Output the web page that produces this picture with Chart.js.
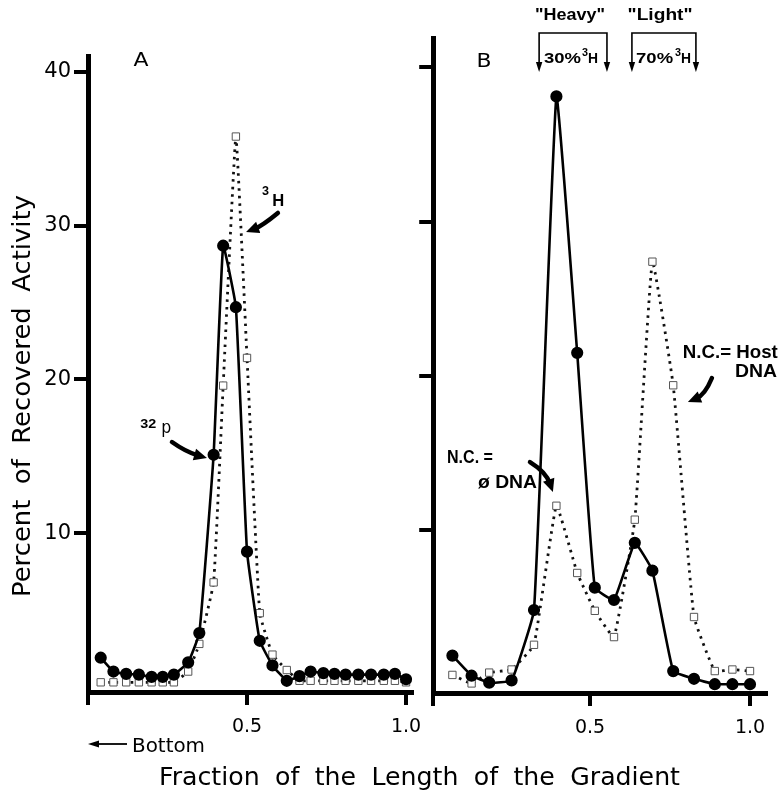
<!DOCTYPE html>
<html>
<head>
<meta charset="utf-8">
<script src="https://cdn.jsdelivr.net/npm/chart.js@4.4.1/dist/chart.umd.min.js"></script>
<style>
body{margin:0;background:#fff;}
#wrap{position:relative;width:780px;height:791px;}
canvas{position:absolute;top:0;}
#cA{left:0;}
#cB{left:390px;}
</style>
</head>
<body>
<div id="wrap">
<canvas id="cA" width="780" height="791"></canvas>
<canvas id="cB" width="390" height="791"></canvas>
</div>
<script>
// panel A: fraction of gradient length, % of recovered activity
const fracA=[0.04,0.08,0.12,0.16,0.20,0.235,0.27,0.315,0.35,0.395,0.425,0.465,0.50,0.54,0.58,0.625,0.665,0.70,0.74,0.775,0.81,0.85,0.89,0.93,0.965,1.0];
const p32A=[1.9,1.0,0.85,0.8,0.65,0.65,0.8,1.6,3.5,15.1,28.7,24.7,8.8,3.0,1.4,0.4,0.7,1.0,0.9,0.85,0.8,0.8,0.8,0.8,0.85,0.5];
const h3A=[0.3,0.3,0.3,0.3,0.3,0.3,0.3,1.0,2.8,6.8,19.6,35.8,21.4,4.8,2.1,1.1,0.4,0.4,0.4,0.4,0.4,0.4,0.4,0.4,0.4,0.3];

// panel B
const fracB=[0.07,0.13,0.185,0.255,0.325,0.395,0.46,0.515,0.575,0.64,0.695,0.76,0.825,0.89,0.945,1.0];
const p32B=[1.9,0.6,0.15,0.3,4.85,38.1,21.5,6.3,5.5,9.2,7.4,0.9,0.4,0.05,0.05,0.05];
const h3B=[0.65,0.1,0.8,1.0,2.6,11.6,7.25,4.8,3.1,10.7,27.4,19.4,4.4,0.9,1.0,0.9];

const yTicks=[10,20,30,40];
const xTicks=[0.5,1.0];

const FONT='"DejaVu Sans", sans-serif';
const BOLD='"Liberation Sans", Arial, sans-serif';

function pts(xs,ys){
return xs.map((x,i)=>({x:x,y:ys[i]}));
}

function txt(ctx,s,x,y,font,w,align){
ctx.save();
ctx.font=font;
ctx.fillStyle='#000';
ctx.textBaseline='alphabetic';
ctx.textAlign='left';
const m=ctx.measureText(s).width;
const k=w?w/m:1;
const x0=align==='center'?x-m*k/2:x;
ctx.translate(x0,y);
ctx.scale(k,1);
ctx.fillText(s,0,0);
ctx.restore();
}

function head(ctx,x,y,ang,len,wid){
ctx.beginPath();
ctx.moveTo(x,y);
ctx.lineTo(x-len*Math.cos(ang)+wid*Math.sin(ang),y-len*Math.sin(ang)-wid*Math.cos(ang));
ctx.lineTo(x-len*Math.cos(ang)-wid*Math.sin(ang),y-len*Math.sin(ang)+wid*Math.cos(ang));
ctx.closePath();
ctx.fill();
}

function swoosh(ctx,x0,y0,cx,cy,x1,y1){
const ang=Math.atan2(y1-cy,x1-cx);
const ex=x1-9*Math.cos(ang), ey=y1-9*Math.sin(ang);
ctx.save();
ctx.strokeStyle='#000';
ctx.fillStyle='#000';
ctx.lineWidth=4.5;
ctx.lineCap='round';
ctx.beginPath();
ctx.moveTo(x0,y0);
ctx.quadraticCurveTo(cx,cy,ex,ey);
ctx.stroke();
head(ctx,x1,y1,ang,13,6);
ctx.restore();
}

function bracket(ctx,l,r,top,tip){
ctx.save();
ctx.strokeStyle='#000';
ctx.fillStyle='#000';
ctx.lineWidth=1.6;
ctx.beginPath();
ctx.moveTo(l,tip-6);
ctx.lineTo(l,top);
ctx.lineTo(r,top);
ctx.lineTo(r,tip-6);
ctx.stroke();
head(ctx,l,tip,Math.PI/2,10,3.2);
head(ctx,r,tip,Math.PI/2,10,3.2);
ctx.restore();
}

function sets(xs,pa,ha){
return [
{
label:'32P',
data:pts(xs,pa),
borderColor:'#000',
borderWidth:2.6,
pointRadius:4.8,
pointBackgroundColor:'#000',
pointBorderColor:'#000',
tension:0.1
},
{
label:'3H',
data:pts(xs,ha),
borderColor:'#111',
borderWidth:2.8,
borderDash:[2.5,5],
pointStyle:'rect',
pointRadius:5.2,
pointBorderWidth:1,
pointBorderColor:'#555',
pointBackgroundColor:'#fff',
tension:0.1
}
];
}

function scales(xmin,xmax,ymin,ymax,yw,xh,showY){
return {
x:{
type:'linear',
min:xmin,
max:xmax,
afterBuildTicks:s=>{s.ticks=[{value:xmin}].concat(xTicks.map(v=>({value:v})));},
afterFit:s=>{s.height=xh;},
ticks:{
autoSkip:false,
maxRotation:0,
padding:11,
color:'#000',
font:{family:FONT,size:19},
callback:v=>v===xmin?'':v.toFixed(1)
},
grid:{drawOnChartArea:false,drawTicks:true,tickLength:13,lineWidth:4,color:'#000'},
border:{display:true,width:5,color:'#000'}
},
y:{
type:'linear',
min:ymin,
max:ymax,
afterBuildTicks:s=>{s.ticks=yTicks.map(v=>({value:v}));},
afterFit:s=>{s.width=yw;},
ticks:{
padding:3,
color:'#000',
font:{family:FONT,size:21},
callback:v=>showY?String(v):''
},
grid:{drawOnChartArea:false,drawTicks:true,tickLength:14,lineWidth:4,color:'#000'},
border:{display:true,width:5,color:'#000'}
}
};
}

const notesA={
id:'notesA',
afterDraw(c){
const ctx=c.ctx;
const X=v=>c.scales.x.getPixelForValue(v);
const Y=v=>c.scales.y.getPixelForValue(v);

txt(ctx,'A',X(0.167),Y(40.39),'20px '+FONT,15,'center');

txt(ctx,'3',X(0.547),Y(32.0),'bold 12px '+BOLD,7);
txt(ctx,'H',X(0.579),Y(31.28),'bold 17px '+BOLD,12);
swoosh(ctx,X(0.597),Y(30.83),X(0.547),Y(29.98),X(0.497),Y(29.59));

txt(ctx,'32',X(0.164),Y(16.85),'bold 12px '+BOLD,16);
txt(ctx,'p',X(0.23),Y(16.52),'17px '+FONT,10);
swoosh(ctx,X(0.264),Y(15.93),X(0.308),Y(15.28),X(0.374),Y(14.89));

// shared axis titles
ctx.save();
ctx.wordSpacing='7px';
txt(ctx,'Fraction of the Length of the Gradient',159,785,'24px '+FONT,521);
txt(ctx,'Bottom',132,752,'20px '+FONT,73);
ctx.restore();
ctx.save();
ctx.strokeStyle='#000';
ctx.fillStyle='#000';
ctx.lineWidth=1.8;
ctx.beginPath();
ctx.moveTo(96,744);
ctx.lineTo(127,744);
ctx.stroke();
head(ctx,88,744,Math.PI,11,3.5);
ctx.restore();

ctx.save();
ctx.translate(30,396);
ctx.rotate(-Math.PI/2);
ctx.wordSpacing='7px';
txt(ctx,'Percent of Recovered Activity',0,0,'25px '+FONT,402,'center');
ctx.restore();
}
};

const notesB={
id:'notesB',
afterDraw(c){
const ctx=c.ctx;
const X=v=>c.scales.x.getPixelForValue(v);
const Y=v=>c.scales.y.getPixelForValue(v);

txt(ctx,'B',X(0.169),Y(40.0),'20px '+FONT,15,'center');

txt(ctx,'"Heavy"',X(0.4375),Y(43.04),'bold 17px '+BOLD,70,'center');
txt(ctx,'"Light"',X(0.719),Y(43.04),'bold 17px '+BOLD,65,'center');
bracket(ctx,X(0.341),X(0.553),Y(42.2),Y(39.68));
bracket(ctx,X(0.631),X(0.831),Y(42.2),Y(39.68));
txt(ctx,'30%',X(0.356),Y(40.26),'bold 14px '+BOLD,37);
txt(ctx,'3',X(0.475),Y(40.71),'bold 10px '+BOLD,6);
txt(ctx,'H',X(0.494),Y(40.26),'bold 14px '+BOLD,10);
txt(ctx,'70%',X(0.644),Y(40.26),'bold 14px '+BOLD,37);
txt(ctx,'3',X(0.766),Y(40.71),'bold 10px '+BOLD,6);
txt(ctx,'H',X(0.784),Y(40.26),'bold 14px '+BOLD,10);

txt(ctx,'N.C. =',X(0.053),Y(14.37),'bold 19px '+BOLD,46);
txt(ctx,'ø DNA',X(0.15),Y(12.75),'bold 19px '+BOLD,59);
swoosh(ctx,X(0.3125),Y(14.43),X(0.3625),Y(13.79),X(0.384),Y(12.49));

txt(ctx,'N.C.= Host',X(0.79),Y(21.17),'bold 19px '+BOLD,95);
txt(ctx,'DNA',X(0.953),Y(19.94),'bold 19px '+BOLD,42);
swoosh(ctx,X(0.881),Y(19.87),X(0.859),Y(18.77),X(0.806),Y(18.32));
}
};

function opts(sc,pad){
return {
responsive:false,
animation:false,
layout:{padding:pad},
plugins:{legend:{display:false},tooltip:{enabled:false}},
scales:sc
};
}

new Chart(document.getElementById('cA'),{
type:'line',
data:{datasets:sets(fracA,p32A,h3A)},
options:opts(scales(0,1.02,-0.33,41.04,88,99,true),{left:0,top:56,right:367.6,bottom:0}),
plugins:[notesA]
});

new Chart(document.getElementById('cB'),{
type:'line',
data:{datasets:sets(fracB,p32B,h3B)},
options:opts(scales(0.01,1.05,-0.52,41.88,43.2,98,false),{left:0,top:38,right:14,bottom:0}),
plugins:[notesB]
});
</script>
</body>
</html>
